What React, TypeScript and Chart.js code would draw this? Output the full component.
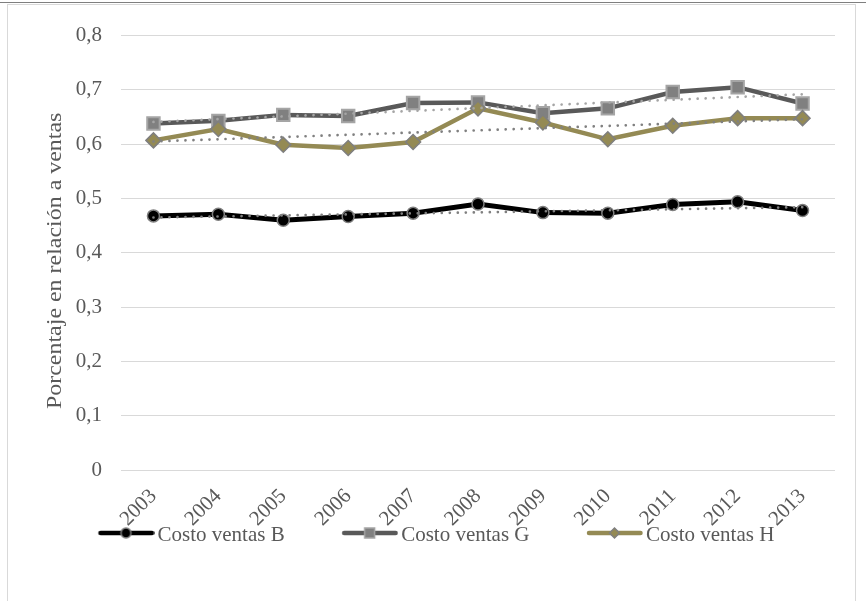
import React, { useEffect, useRef } from 'react';
import { Chart, registerables } from 'chart.js';

Chart.register(...registerables);

// ---- data ----
const years = ['2003', '2004', '2005', '2006', '2007', '2008', '2009', '2010', '2011', '2012', '2013'];
const costoB = [0.468, 0.471, 0.46, 0.467, 0.473, 0.49, 0.474, 0.473, 0.489, 0.494, 0.478];
const costoG = [0.638, 0.643, 0.654, 0.652, 0.676, 0.677, 0.657, 0.666, 0.696, 0.705, 0.675];
const costoH = [0.607, 0.628, 0.599, 0.593, 0.604, 0.666, 0.64, 0.609, 0.634, 0.648, 0.648];
// trend line end values (first and last year)
const trendB = [0.465, 0.484];
const trendG = [0.641, 0.692];
const trendH = [0.605, 0.646];
const yTickLabels = ['0', '0,1', '0,2', '0,3', '0,4', '0,5', '0,6', '0,7', '0,8'];
const seriesNames = ['Costo ventas B', 'Costo ventas G', 'Costo ventas H'];
const yTitle = 'Porcentaje en relación a ventas';

const FONT = "'Liberation Serif', 'Times New Roman', serif";
const TEXT = '#595959';
const OLIVE = '#948A54';

function trendData(ends: number[]) {
  return years.map((_, i) => (i === 0 ? ends[0] : i === years.length - 1 ? ends[1] : null));
}

function makeSymbol(lineColor: string, kind: string, fill: string, border: string) {
  const c = document.createElement('canvas');
  c.width = 111;
  c.height = 24;
  const ctx = c.getContext('2d')!;
  const y = 10;
  ctx.strokeStyle = lineColor;
  ctx.lineWidth = 4.5;
  ctx.lineCap = 'round';
  ctx.beginPath();
  ctx.moveTo(57, y);
  ctx.lineTo(108.5, y);
  ctx.stroke();
  const cx = 82.5;
  ctx.fillStyle = fill;
  ctx.strokeStyle = border;
  ctx.lineWidth = 1.5;
  ctx.beginPath();
  if (kind === 'circle') {
    ctx.arc(cx, y, 5, 0, Math.PI * 2);
  } else if (kind === 'rect') {
    ctx.rect(cx - 5, y - 5, 10, 10);
  } else {
    ctx.moveTo(cx - 5, y);
    ctx.lineTo(cx, y - 5);
    ctx.lineTo(cx + 5, y);
    ctx.lineTo(cx, y + 5);
    ctx.closePath();
  }
  ctx.fill();
  ctx.stroke();
  return c;
}

// y-axis title drawn with a slightly condensed look (as in the reference)
const yTitlePlugin = {
  id: 'yTitlePlugin',
  afterDraw(chart: any) {
    const { ctx, chartArea } = chart;
    const ys = chart.scales.y;
    ctx.save();
    ctx.font = `21px ${FONT}`;
    ctx.fillStyle = TEXT;
    ctx.textAlign = 'center';
    ctx.textBaseline = 'middle';
    ctx.translate(ys.left + 14, (chartArea.top + chartArea.bottom) / 2 + 8);
    ctx.rotate(-Math.PI / 2);
    ctx.scale(1.14, 1);
    ctx.fillText(yTitle, 0, 0);
    ctx.restore();
  },
};

export default function App() {
  const ref = useRef<HTMLCanvasElement | null>(null);

  useEffect(() => {
    if (!ref.current) return;
    Chart.defaults.font.family = FONT;
    Chart.defaults.color = TEXT;

    const symbols = [
      makeSymbol('#000000', 'circle', '#000000', '#7F7F7F'),
      makeSymbol('#595959', 'rect', '#808080', '#A5A5A5'),
      makeSymbol(OLIVE, 'diamond', OLIVE, '#7F7F7F'),
    ];

    const dotted = {
      pointRadius: 0,
      borderWidth: 2.7,
      borderDash: [0.01, 8],
      borderCapStyle: 'round' as const,
      spanGaps: true,
      fill: false,
      tension: 0,
      order: 0,
    };

    const chart = new Chart(ref.current, {
      type: 'line',
      data: {
        labels: years,
        datasets: [
          { ...dotted, label: 'trendG', data: trendData(trendG), borderColor: '#A5A5A5' },
          { ...dotted, label: 'trendH', data: trendData(trendH), borderColor: '#808080' },
          { ...dotted, label: 'trendB', data: trendData(trendB), borderColor: '#808080' },
          {
            label: seriesNames[2],
            data: costoH,
            borderColor: OLIVE,
            backgroundColor: OLIVE,
            borderWidth: 4.5,
            pointStyle: 'rectRot',
            pointRadius: 7.5,
            pointBorderColor: '#7F7F7F',
            pointBackgroundColor: OLIVE,
            pointBorderWidth: 1.5,
            order: 1,
          },
          {
            label: seriesNames[1],
            data: costoG,
            borderColor: '#595959',
            backgroundColor: '#808080',
            borderWidth: 4.5,
            pointStyle: 'rect',
            pointRadius: 8.8,
            pointBorderColor: '#A5A5A5',
            pointBackgroundColor: '#808080',
            pointBorderWidth: 2,
            order: 2,
          },
          {
            label: seriesNames[0],
            data: costoB,
            borderColor: '#000000',
            backgroundColor: '#000000',
            borderWidth: 5,
            pointStyle: 'circle',
            pointRadius: 6,
            pointBorderColor: '#7F7F7F',
            pointBackgroundColor: '#000000',
            pointBorderWidth: 1.5,
            order: 3,
          },
        ],
      },
      options: {
        responsive: false,
        animation: false,
        events: [],
        devicePixelRatio: 1,
        layout: { padding: { left: 33, right: 22, top: 28.6, bottom: 44.5 } },
        plugins: {
          tooltip: { enabled: false },
          legend: {
            position: 'bottom',
            align: 'start',
            labels: {
              usePointStyle: true,
              pointStyleWidth: 96,
              padding: 10,
              color: TEXT,
              font: { size: 21, family: FONT },
              generateLabels: () =>
                seriesNames.map((name, i) => ({
                  text: name,
                  pointStyle: symbols[i] as any,
                  fillStyle: 'transparent',
                  strokeStyle: 'transparent',
                  lineWidth: 0,
                  hidden: false,
                  rotation: 0,
                  datasetIndex: 5 - i,
                  fontColor: TEXT,
                })),
            },
          },
        },
        scales: {
          x: {
            type: 'category',
            offset: true,
            grid: { display: false, drawTicks: false },
            border: { display: false },
            ticks: {
              autoSkip: false,
              minRotation: 45,
              maxRotation: 45,
              padding: 14,
              color: TEXT,
              font: { size: 21, family: FONT },
            },
            afterFit: (s: any) => {
              s.height = 44.5;
              // let the rotated year labels overflow the axis box (no clipping)
              s._computeLabelArea = () => undefined;
            },
          },
          y: {
            min: 0,
            max: 0.8,
            grid: { color: '#D9D9D9', lineWidth: 1, drawTicks: false },
            border: { display: false },
            ticks: {
              stepSize: 0.1,
              padding: 19,
              color: TEXT,
              font: { size: 21, family: FONT },
              callback: (_v: any, i: number) => yTickLabels[i],
            },
            title: { display: false },
            afterFit: (s: any) => {
              s.width = 80;
            },
          },
        },
      },
      plugins: [yTitlePlugin],
    });
    return () => chart.destroy();
  }, []);

  return (
    <div style={{ position: 'fixed', left: 0, top: 0, width: 866, height: 601, background: '#fff', overflow: 'hidden' }}>
      <div style={{ position: 'absolute', left: 0, top: 2, width: 866, height: 1, background: '#7F7F7F' }} />
      <div
        style={{
          position: 'absolute',
          left: 7,
          top: 4,
          width: 849,
          height: 610,
          border: '1px solid #D9D9D9',
          boxSizing: 'border-box',
        }}
      />
      <canvas ref={ref} width={849} height={596} style={{ position: 'absolute', left: 8, top: 4, width: 849, height: 596 }} />
    </div>
  );
}
